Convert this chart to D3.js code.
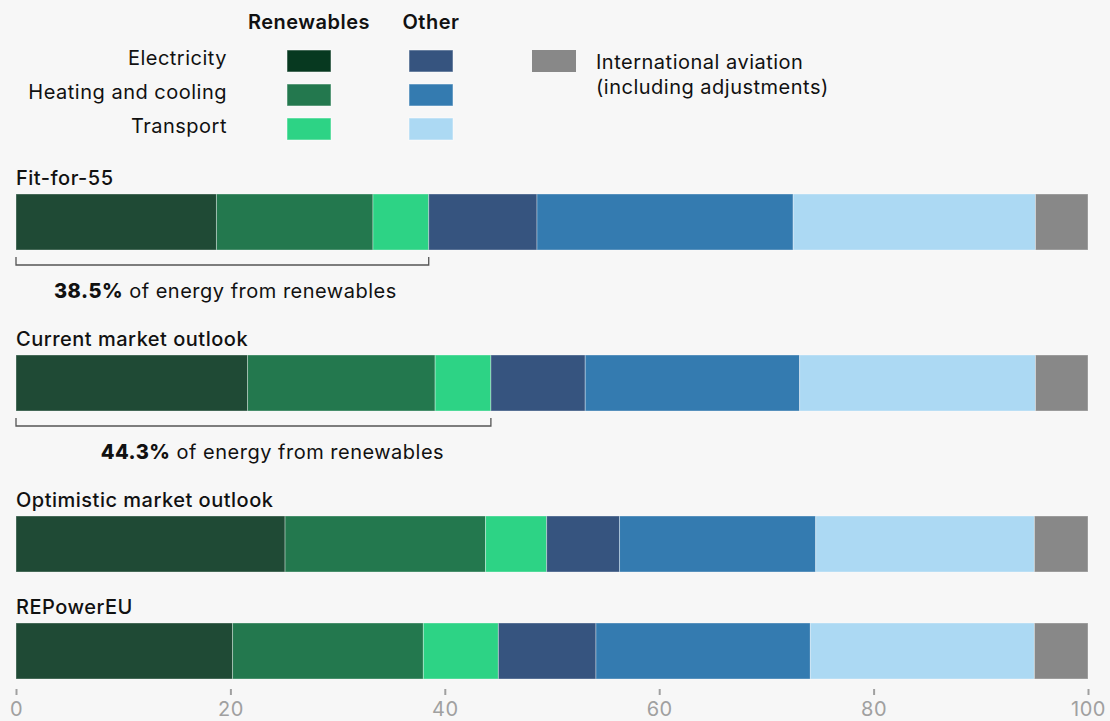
<!DOCTYPE html>
<html lang="en">
<head>
    <meta charset="UTF-8">
    <title>Renewables share by scenario</title>
    <script src="https://d3js.org/d3.v7.min.js"></script>
    <style>
        body {
            margin: 0;
            background-color: #f7f7f7;
            font-family: Inter, "Noto Sans", sans-serif;
        }
        svg text {
            fill: #111;
            font-size: 20px;
            letter-spacing: 0.5px;
        }
        .axis text {
            fill: #a0a0a0;
        }
        .axis line {
            stroke: #a0a0a0;
        }
    </style>
</head>
<body>
    <svg id="chart" width="1110" height="721"></svg>
    <script>
        // scenarios (top to bottom)
        const scenarios = ["Fit-for-55", "Current market outlook", "Optimistic market outlook", "REPowerEU"];

        // stack keys, left to right
        const keys = ["renElec", "renHeat", "renTrans", "othElec", "othHeat", "othTrans", "aviation"];

        // shares in %
        const renElec  = [18.7, 21.6, 25.1, 20.2];
        const renHeat  = [14.6, 17.5, 18.7, 17.8];
        const renTrans = [5.2, 5.2, 5.7, 7.0];
        const othElec  = [10.1, 8.8, 6.8, 9.1];
        const othHeat  = [23.9, 20.0, 18.3, 20.0];
        const othTrans = [22.6, 22.0, 20.4, 20.9];
        const aviation = [4.9, 4.9, 5.0, 5.0];

        // renewables total annotations (only first two scenarios)
        const annotated = ["Fit-for-55", "Current market outlook"];
        const annotationValues = ["38.5%", "44.3%"];

        const legendRows = ["Electricity", "Heating and cooling", "Transport"];
        const legendCols = ["Renewables", "Other"];
        const tickValues = [0, 20, 40, 60, 80, 100];

        const series = { renElec, renHeat, renTrans, othElec, othHeat, othTrans, aviation };
        const table = scenarios.map((s, i) => {
            const row = { scenario: s };
            keys.forEach(k => row[k] = series[k][i]);
            return row;
        });

        const barColor = d3.scaleOrdinal()
            .domain(keys)
            .range(["#1f4a35", "#23784e", "#2dd385", "#36547f", "#347bb0", "#acd9f3", "#888888"]);
        const legendColor = d3.scaleOrdinal()
            .domain(keys)
            .range(["#073920", "#23784e", "#2dd385", "#36547f", "#347bb0", "#acd9f3", "#888888"]);

        const svg = d3.select("#chart");

        const x = d3.scaleLinear().domain([0, 100]).range([16, 1088]);

        // vertical layout: rows grow when they carry an annotation
        const barH = 56, rowStep = 107, annExtra = 54;
        const barTop = {};
        let yPos = 194;
        scenarios.forEach(s => {
            barTop[s] = yPos;
            yPos += rowStep + (annotated.includes(s) ? annExtra : 0);
        });

        const stack = d3.stack().keys(keys);
        const stacked = stack(table);

        // bars
        svg.append("g")
            .selectAll("g")
            .data(stacked)
            .join("g")
            .attr("fill", d => barColor(d.key))
            .selectAll("rect")
            .data(d => d)
            .join("rect")
            .attr("x", d => x(d[0]))
            .attr("y", d => barTop[d.data.scenario])
            .attr("width", d => x(d[1]) - x(d[0]))
            .attr("height", barH)
            .attr("stroke", "rgba(255,255,255,0.35)")
            .attr("stroke-width", 1);

        // scenario titles
        svg.append("g")
            .selectAll("text")
            .data(scenarios)
            .join("text")
            .attr("x", x(0))
            .attr("y", s => barTop[s] - 9)
            .attr("font-weight", 500)
            .text(s => s);

        // renewables brackets and labels
        const ann = svg.append("g")
            .selectAll("g")
            .data(annotated)
            .join("g");

        const renTotal = s => {
            const i = scenarios.indexOf(s);
            return renElec[i] + renHeat[i] + renTrans[i];
        };

        ann.append("path")
            .attr("fill", "none")
            .attr("stroke", "#555")
            .attr("stroke-width", 1.3)
            .attr("d", s => {
                const yb = barTop[s] + barH + 15;
                return `M${x(0)},${yb - 8}V${yb}H${x(renTotal(s))}V${yb - 8}`;
            });

        const labelShift = [3, 19];
        ann.append("text")
            .attr("x", (s, i) => (x(0) + x(renTotal(s))) / 2 + labelShift[i])
            .attr("y", s => barTop[s] + barH + 48)
            .attr("text-anchor", "middle")
            .html((s, i) => `<tspan font-weight="800">${annotationValues[i]}</tspan> of energy from renewables`);

        // x axis
        const axis = svg.append("g")
            .attr("class", "axis")
            .attr("transform", "translate(0,689)")
            .call(d3.axisBottom(x).tickValues(tickValues).tickSize(6).tickPadding(7).tickFormat(d3.format("d")));
        axis.select(".domain").remove();
        axis.selectAll(".tick line").attr("stroke-width", 2);
        axis.selectAll(".tick text")
            .attr("font-family", "Inter, 'Noto Sans', sans-serif")
            .attr("font-size", 20);

        // legend
        const legend = svg.append("g");
        const colX = d3.scalePoint().domain(legendCols).range([309, 431]);
        const rowY = d3.scalePoint().domain(legendRows).range([61, 129]);

        legend.selectAll("text.colhead")
            .data(legendCols)
            .join("text")
            .attr("class", "colhead")
            .attr("x", c => colX(c))
            .attr("y", 29)
            .attr("text-anchor", "middle")
            .attr("font-weight", 600)
            .text(c => c);

        legend.selectAll("text.rowlab")
            .data(legendRows)
            .join("text")
            .attr("class", "rowlab")
            .attr("x", 227)
            .attr("y", r => rowY(r) + 4)
            .attr("text-anchor", "end")
            .text(r => r);

        const swatches = [];
        legendCols.forEach((c, ci) => legendRows.forEach((r, ri) => {
            swatches.push({ col: c, row: r, key: keys[ci * 3 + ri] });
        }));

        legend.selectAll("rect.sw")
            .data(swatches)
            .join("rect")
            .attr("class", "sw")
            .attr("x", d => colX(d.col) - 22)
            .attr("y", d => rowY(d.row) - 11)
            .attr("width", 44)
            .attr("height", 22)
            .attr("fill", d => legendColor(d.key))
            .attr("stroke", "rgba(255,255,255,0.5)");

        legend.append("rect")
            .attr("x", 532)
            .attr("y", rowY("Electricity") - 11)
            .attr("width", 44)
            .attr("height", 22)
            .attr("fill", legendColor("aviation"));

        legend.append("text")
            .attr("x", 596)
            .attr("y", 69)
            .text("International aviation");
        legend.append("text")
            .attr("x", 596)
            .attr("y", 94)
            .text("(including adjustments)");
    </script>
</body>
</html>
